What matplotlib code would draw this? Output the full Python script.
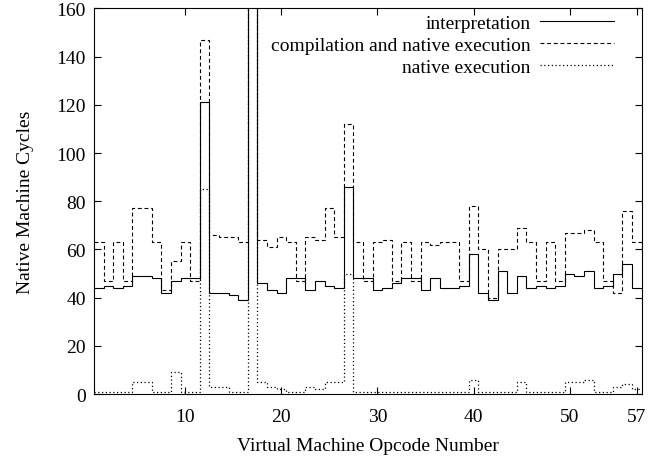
#!/usr/bin/env python3
"""
Cycles per virtual machine opcode: interpretation vs compilation vs native.
"""

import numpy as np
import matplotlib
matplotlib.use('Agg')
import matplotlib.pyplot as plt

# opcode numbers 1..57 (value 17 is off the chart in all three series)
opcodes = list(range(1, 58))

interpretation = [44, 45, 44, 45, 49, 49, 48, 42, 47, 48,
                  48, 121, 42, 42, 41, 39, 190, 46, 43, 42,
                  48, 48, 43, 47, 45, 44, 86, 48, 48, 43,
                  44, 46, 48, 48, 43, 48, 44, 44, 45, 58,
                  42, 39, 51, 42, 49, 44, 45, 44, 45, 50,
                  49, 51, 44, 45, 50, 54, 44]

compilation = [63, 47, 63, 47, 77, 77, 63, 43, 55, 63,
               47, 147, 66, 65, 65, 63, 220, 64, 61, 65,
               63, 47, 65, 64, 77, 65, 112, 63, 47, 63,
               64, 47, 63, 47, 63, 62, 63, 63, 47, 78,
               60, 40, 60, 60, 69, 63, 47, 63, 47, 67,
               67, 68, 63, 47, 42, 76, 63]

native = [1, 1, 1, 1, 5, 5, 1, 1, 9, 1,
          1, 85, 3, 3, 1, 1, 170, 5, 3, 2,
          1, 1, 3, 2, 5, 5, 50, 1, 1, 1,
          1, 1, 1, 1, 1, 1, 1, 1, 1, 6,
          1, 1, 1, 1, 5, 1, 1, 1, 1, 5,
          5, 6, 1, 1, 3, 4, 2]

x_ticks = [10, 20, 30, 40, 50, 57]
y_ticks = [0, 20, 40, 60, 80, 100, 120, 140, 160]

plt.rcParams['font.family'] = ['Liberation Serif', 'DejaVu Serif']
plt.rcParams['font.size'] = 14


def main():
    fig = plt.figure(figsize=(6.67, 4.64), dpi=100)
    ax = fig.add_axes([0.141, 0.1487, 0.821, 0.831])

    # histogram-like steps centred on each opcode
    edges = np.arange(opcodes[0] - 0.5, opcodes[-1] + 1.0, 1.0)
    ax.stairs(interpretation, edges, baseline=None, color='black',
              linewidth=0.8, linestyle='-', label='interpretation')
    ax.stairs(compilation, edges, baseline=None, color='black',
              linewidth=0.8, linestyle=(0, (3.5, 2.5)),
              label='compilation and native execution')
    ax.stairs(native, edges, baseline=None, color='black',
              linewidth=0.9, linestyle=(0, (1, 2)), label='native execution')

    ax.set_xlim(0.5, 57.5)
    ax.set_ylim(0, 160)
    ax.set_xticks(x_ticks)
    ax.set_yticks(y_ticks)
    ax.tick_params(direction='in', length=5, width=0.8, top=True, right=True)
    ax.tick_params(axis='y', pad=6)
    ax.tick_params(axis='x', pad=10)
    for sp in ax.spines.values():
        sp.set_linewidth(0.8)

    ax.set_xlabel('Virtual Machine Opcode Number', labelpad=9)
    ax.set_ylabel('Native Machine Cycles', labelpad=16)

    ax.legend(loc='upper right', bbox_to_anchor=(0.95, 0.985), frameon=False,
              markerfirst=False, handlelength=3.8, handletextpad=0.5,
              labelspacing=0.22, borderpad=0, borderaxespad=0)

    fig.savefig('out.png', dpi=100)
    plt.close(fig)


if __name__ == '__main__':
    main()
